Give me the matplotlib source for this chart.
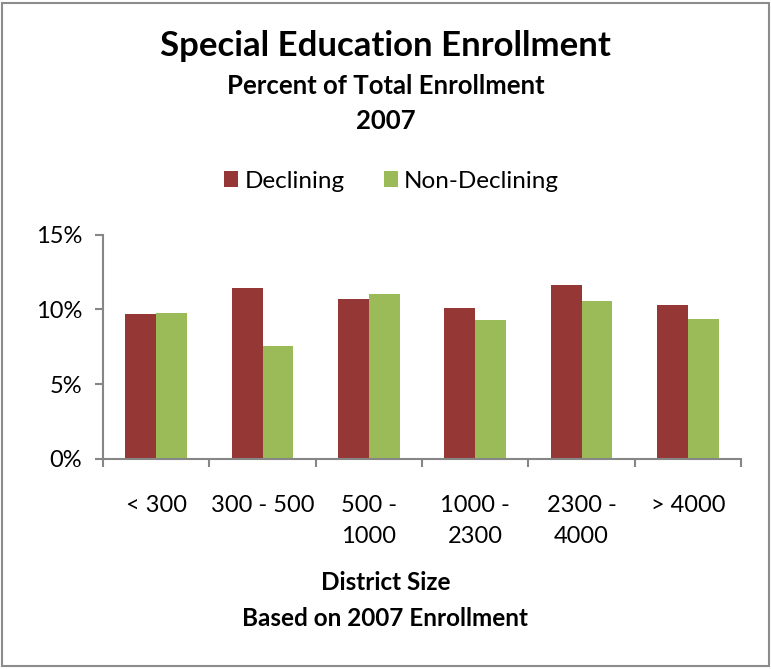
import numpy as np
import matplotlib.pyplot as plt
from matplotlib.patches import Rectangle

plt.rcParams['font.family'] = ['Lato', 'DejaVu Sans']

categories = ["< 300", "300 - 500", "500 -\n1000", "1000 -\n2300", "2300 -\n4000", "> 4000"]
declining = [9.7, 11.4, 10.7, 10.1, 11.6, 10.3]
non_declining = [9.75, 7.55, 11.0, 9.3, 10.55, 9.35]
yticks = [0, 5, 10, 15]

red = "#953735"
green = "#9BBB59"
axis_gray = "#868686"

fig = plt.figure(figsize=(7.71, 6.69), dpi=100)
ax = fig.add_axes([0.1336, 0.3143, 0.8275, 0.3349])

x = np.arange(len(categories))
w = 0.29
ax.bar(x - w / 2, declining, w, color=red, label="Declining")
ax.bar(x + w / 2, non_declining, w, color=green, label="Non-Declining")

ax.set_xlim(-0.5, len(categories) - 0.5)
ax.set_ylim(0, 15)
ax.set_yticks(yticks)
ax.set_yticklabels([f"{v}%" for v in yticks], fontsize=17)
ax.set_xticks(x)
ax.set_xticklabels(categories, fontsize=17, linespacing=1.6, va="top")
ax.set_xticks(np.arange(len(categories) + 1) - 0.5, minor=True)
ax.tick_params(axis="x", which="major", length=0, pad=26)
ax.tick_params(axis="x", which="minor", length=6, width=1.5, color=axis_gray)
ax.tick_params(axis="y", length=6, width=1.5, color=axis_gray, pad=9)

for s in ["top", "right"]:
    ax.spines[s].set_visible(False)
for s in ["left", "bottom"]:
    ax.spines[s].set_color(axis_gray)
    ax.spines[s].set_linewidth(1.5)

fig.text(0.5, 1 - 46 / 669, "Special Education Enrollment", ha="center", va="center",
         fontsize=25, fontweight="bold")
fig.text(0.5, 1 - 86 / 669, "Percent of Total Enrollment", ha="center", va="center",
         fontsize=18.5, fontweight="bold")
fig.text(0.5, 1 - 121 / 669, "2007", ha="center", va="center",
         fontsize=18.5, fontweight="bold")

fig.legend(loc="center", bbox_to_anchor=(0.5 + 6 / 771, 1 - 181 / 669), ncol=2, frameon=False,
           fontsize=17.5, handlelength=0.6, handleheight=0.6, handletextpad=0.25,
           columnspacing=1.6)

fig.text(0.5, 1 - 583 / 669, "District Size", ha="center", va="center",
         fontsize=17.5, fontweight="bold")
fig.text(0.5, 1 - 618 / 669, "Based on 2007 Enrollment", ha="center", va="center",
         fontsize=17.5, fontweight="bold")

fig.patches.append(Rectangle((0.003, 0.004), 0.994, 0.992, transform=fig.transFigure,
                             fill=False, edgecolor="#8c8c8c", linewidth=1.5))

fig.savefig("out.png", dpi=100)
